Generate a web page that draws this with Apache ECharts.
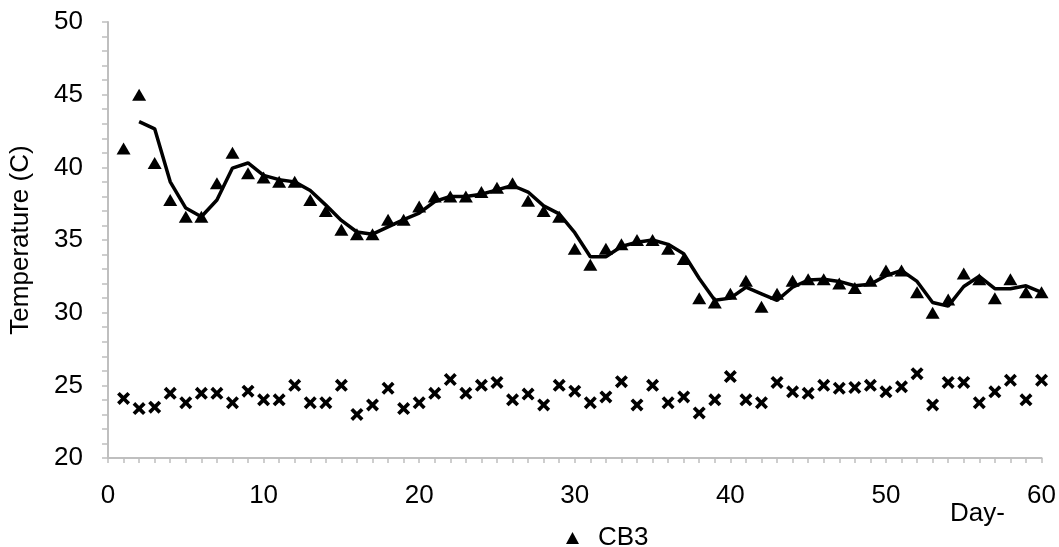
<!DOCTYPE html>
<html>
<head>
<meta charset="utf-8">
<script src="https://cdn.jsdelivr.net/npm/echarts@6/dist/echarts.min.js"></script>
<style>html,body{margin:0;padding:0;background:#fff}#c{width:1059px;height:547px}</style>
</head>
<body>
<div id="c"></div>
<script>
const days = Array.from({length: 60}, (_, i) => i + 1);
const cb3 = [41.3,45.0,40.3,37.75,36.6,36.6,38.9,41.0,39.6,39.3,
             39.0,39.0,37.75,37.0,35.7,35.4,35.4,36.4,36.4,37.3,
             38.0,38.0,38.0,38.3,38.6,38.9,37.7,37.0,36.6,34.4,
             33.3,34.4,34.7,35.0,35.0,34.4,33.7,31.0,30.7,31.3,
             32.2,30.4,31.3,32.2,32.3,32.3,32.0,31.7,32.2,32.9,
             32.9,31.4,30.0,30.9,32.7,32.3,31.0,32.3,31.4,31.4];
const trendDays = days.slice(1);
const trend = [43.15,42.65,39.0,37.2,36.6,37.75,39.95,40.3,39.45,
               39.15,39.0,38.4,37.4,36.35,35.55,35.4,35.9,36.4,36.85,
               37.65,38.0,38.0,38.15,38.45,38.75,38.3,37.35,36.8,35.5,
               33.85,33.85,34.55,34.85,35.0,34.7,34.05,32.35,30.85,31.0,
               31.75,31.3,30.85,31.75,32.25,32.3,32.15,31.85,31.95,32.55,
               32.9,32.15,30.7,30.45,31.8,32.5,31.65,31.65,31.85,31.4];
const ambient = [24.1,23.4,23.5,24.45,23.8,24.45,24.45,23.8,24.6,24.0,
                 24.0,25.0,23.8,23.8,25.0,23.0,23.65,24.8,23.4,23.8,
                 24.45,25.4,24.45,25.0,25.2,24.0,24.4,23.65,25.0,24.6,
                 23.8,24.2,25.25,23.65,25.0,23.8,24.2,23.1,24.0,25.6,
                 24.0,23.8,25.2,24.55,24.45,25.0,24.8,24.85,25.0,24.55,
                 24.9,25.8,23.65,25.2,25.2,23.8,24.55,25.35,24.0,25.35];
const xTicks = [0,10,20,30,40,50,60];
const yTicks = [20,25,30,35,40,45,50];

const crossPath = 'path://M0,2L2,0L5,3L8,0L10,2L7,5L10,8L8,10L5,7L2,10L0,8L3,5Z';
const font = 'Liberation Sans, Arial, sans-serif';
const fs = 26;

const chart = echarts.init(document.getElementById('c'));
chart.setOption({
  animation: false,
  backgroundColor: '#fff',
  grid: {left: 108, right: 16, top: 22, bottom: 89},
  legend: {
    data: [{name: 'CB3', icon: 'triangle'}],
    left: 561, top: 520,
    itemWidth: 13, itemHeight: 12, itemGap: 10,
    textStyle: {fontFamily: font, fontSize: fs, color: '#000', padding: [0,0,0,14]}
  },
  xAxis: {
    type: 'value', min: xTicks[0], max: xTicks[xTicks.length-1], interval: 10,
    axisLine: {lineStyle: {color: '#bfbfbf', width: 2}},
    axisTick: {show: true, length: 5, lineStyle: {color: '#bfbfbf', width: 1.5}},
    minorTick: {show: true, splitNumber: 10, length: 5, lineStyle: {color: '#bfbfbf', width: 1.5}},
    splitLine: {show: false},
    axisLabel: {margin: 25, fontFamily: font, fontSize: fs, color: '#000'}
  },
  yAxis: {
    type: 'value', min: yTicks[0], max: yTicks[yTicks.length-1], interval: 5,
    name: 'Temperature (C)', nameLocation: 'middle', nameGap: 74,
    nameTextStyle: {fontFamily: font, fontSize: fs, color: '#000'},
    axisLine: {show: true, lineStyle: {color: '#bfbfbf', width: 2}},
    axisTick: {show: true, length: 6, lineStyle: {color: '#bfbfbf', width: 1.5}},
    minorTick: {show: true, splitNumber: 5, length: 6, lineStyle: {color: '#bfbfbf', width: 1.5}},
    splitLine: {show: false},
    axisLabel: {margin: 25, fontFamily: font, fontSize: fs, color: '#000'}
  },
  graphic: [{
    type: 'text', left: 950, top: 501,
    style: {text: 'Day-', fontFamily: font, fontSize: fs, fill: '#000'}
  }],
  series: [
    {
      name: 'trend', type: 'line', data: trendDays.map((d, i) => [d, trend[i]]),
      showSymbol: false, symbol: 'none', z: 2,
      lineStyle: {color: '#000', width: 3.5}
    },
    {
      name: 'CB3', type: 'scatter', data: days.map((d, i) => [d, cb3[i]]),
      symbol: 'triangle', symbolSize: [14, 12], z: 3,
      itemStyle: {color: '#000', opacity: 1}
    },
    {
      name: 'Ambient', type: 'scatter', data: days.map((d, i) => [d, ambient[i]]),
      symbol: crossPath, symbolSize: 13, z: 3,
      itemStyle: {color: '#000', opacity: 1}
    }
  ]
});
</script>
</body>
</html>
